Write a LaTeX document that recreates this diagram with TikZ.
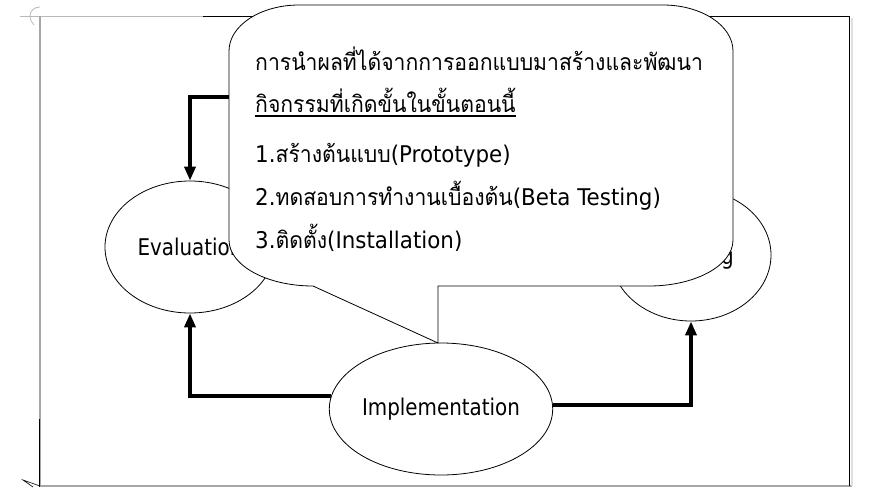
\documentclass[tikz,border=0pt]{standalone}
\usepackage{fontspec}
\setmainfont{DejaVu Sans}[FakeStretch=0.865]
\newfontfamily\notelatin{DejaVu Sans}[FakeStretch=0.93]
\newfontfamily\thai[Script=Thai, FakeStretch=0.92]{Loma}
\usetikzlibrary{shapes.geometric,arrows.meta}

\begin{document}
\begin{tikzpicture}[x=1pt,y=-1pt,
  txt/.style={font=\fontsize{23}{27}\selectfont, inner sep=0pt},
  state/.style={draw, ellipse, line width=0.8pt, fill=white, inner sep=0pt, txt},
  flow/.style={line width=4pt, -{Triangle[length=14pt,width=11pt]}},
  bubble/.style={draw, line width=0.8pt, fill=white, line join=miter},
  line/.style={font=\fontsize{23}{27}\notelatin, inner sep=0pt, anchor=base west},
  pagemark/.style={gray!55, line width=0.8pt}]
\useasboundingbox (0,0) rectangle (872,488);

% page frame
\draw[pagemark] (20,16) -- (203,16);
\draw[line width=0.9pt] (203,16) -- (849,16);
\draw[gray!70, line width=1.2pt] (40,16) -- (40,486);
\draw[line width=0.9pt] (39,419) -- (39,487);
\draw[gray!70, line width=2pt] (40,486) -- (852,486);
\draw[line width=1pt] (849,16) -- (849,486);
\draw[gray!25, line width=1.5pt] (852,18) -- (852,486);
\draw[pagemark] (40,7) .. controls (34,7) and (30,11) .. (30,16)
                 .. controls (30,20) and (32,23) .. (34,25);
\draw[line width=0.6pt] (40,486) -- (23,480) -- (33,487);

% states
\node[state, minimum width=170pt, minimum height=132pt] (eval) at (190,247) {Evaluation};
\node[state, minimum width=160pt, minimum height=132pt] (test) at (691,255) {};
\node[txt, anchor=base east] (testlbl) at (734,264) {Testing};
\node[state, minimum width=178pt, minimum height=132pt] (impl) at (441,409) {Implementation};

% transitions
\coordinate (designout) at (300,97);
\draw[flow] (designout) -| (eval.north);
\draw[flow] (impl.173) -| (eval.south);
\draw[flow] (impl.2) -| (test.south);

% callout
\coordinate (tip) at (438,343);
\path[bubble] (229,51) .. controls (229,25.6) and (260.4,5) .. (299,5)
  -- (663,5) .. controls (701.6,5) and (733,25.6) .. (733,51)
  -- (733,240) .. controls (733,265.4) and (695.4,286) .. (649,286)
  -- (438,286) -- (tip) -- (313,286)
  .. controls (266.6,286) and (229,265.4) .. (229,240) -- cycle;

\node[line] (l1) at (255,70) {\thai การนำผลที่ได้จากการออกแบบมาสร้างและพัฒนา};
\node[line] (l2) at (255,112) {\thai กิจกรรมที่เกิดขั้นในขั้นตอนนี้};
\draw[line width=1.2pt] ([yshift=-4pt]l2.base west) -- ([yshift=-4pt]l2.base east);
\node[line] (l3) at (255,162) {1.{\thai สร้างต้นแบบ}(Prototype)};
\node[line] (l4) at (255,205) {2.{\thai ทดสอบการทำงานเบื้องต้น}(Beta Testing)};
\node[line] (l5) at (255,248) {3.{\thai ติดตั้ง}(Installation)};
\end{tikzpicture}
\end{document}
